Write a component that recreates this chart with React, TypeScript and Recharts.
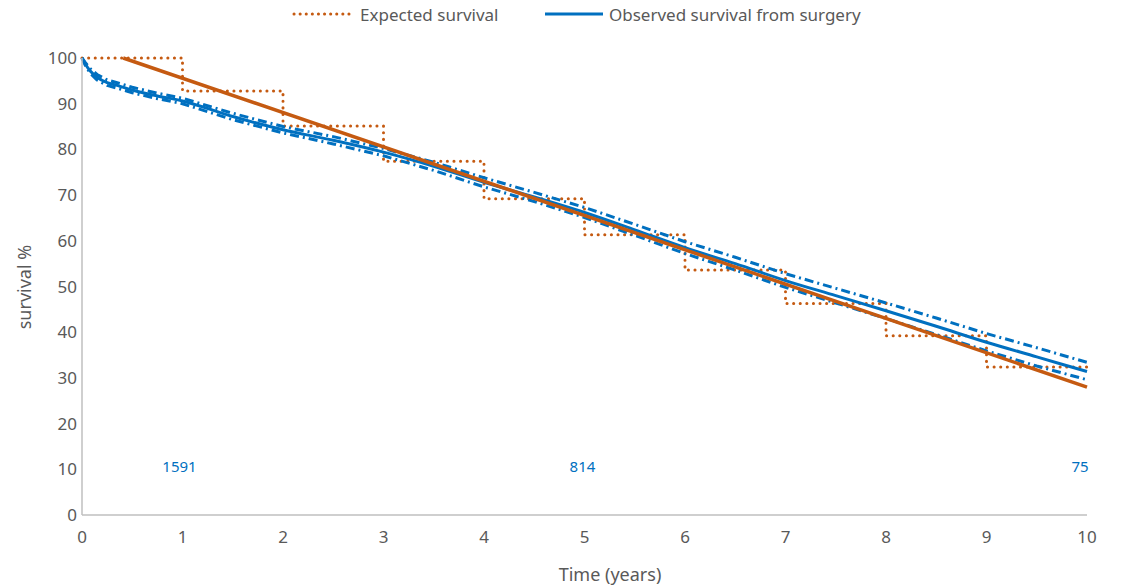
import { LineChart, Line, XAxis, YAxis, LabelList } from "recharts";

// Observed survival from surgery (Kaplan-Meier estimate) with confidence bounds
const obsTimes = [0, 0.03, 0.08, 0.15, 0.25, 0.35, 0.5, 0.75, 1, 1.5, 2, 2.5, 3, 3.5, 4, 4.5, 5, 5.5, 6, 6.5, 7, 7.5, 8, 8.5, 9, 9.5, 10];
const observed = [100, 98.8, 97.2, 95.8, 94.6, 94.0, 93.0, 91.7, 90.6, 87.2, 84.3, 82.0, 79.4, 76.3, 72.8, 69.6, 66.2, 62.4, 58.5, 55.0, 51.3, 48.0, 44.7, 41.3, 37.8, 34.6, 31.4];
const upperCI = [100, 99.1, 97.7, 96.4, 95.2, 94.6, 93.6, 92.3, 91.2, 87.9, 85.0, 82.8, 80.2, 77.2, 73.8, 70.6, 67.3, 63.6, 59.8, 56.4, 52.8, 49.6, 46.4, 43.1, 39.7, 36.6, 33.4];
const lowerCI = [100, 98.5, 96.7, 95.2, 94.0, 93.4, 92.4, 91.1, 90.0, 86.5, 83.6, 81.2, 78.6, 75.4, 71.8, 68.6, 65.1, 61.2, 57.2, 53.6, 49.8, 46.4, 43.0, 39.5, 35.9, 32.6, 29.6];

// Expected survival (yearly steps)
const expTimes = [0, 1, 2, 3, 4, 5, 6, 7, 8, 9, 10];
const expected = [100, 92.8, 85.1, 77.4, 69.2, 61.3, 53.6, 46.3, 39.2, 32.4, 32.4];

// Straight expected line
const trendTimes = [0.41, 10];
const trend = [100, 28];

// Numbers at risk
const riskTimes = [0.97, 4.98, 9.93];
const riskY = [10.5, 10.5, 10.5];
const riskLabels = ["1591", "814", "75"];

const xTicks = [0, 1, 2, 3, 4, 5, 6, 7, 8, 9, 10];
const yTicks = [0, 10, 20, 30, 40, 50, 60, 70, 80, 90, 100];

const obsData = obsTimes.map((t, i) => ({ t, obs: observed[i], up: upperCI[i], lo: lowerCI[i] }));
const expData = expTimes.map((t, i) => ({ t, exp: expected[i] }));
const trendData = trendTimes.map((t, i) => ({ t, trend: trend[i] }));
const riskData = riskTimes.map((t, i) => ({ t, y: riskY[i], n: riskLabels[i] }));

const BLUE = "#0070C0";
const ORANGE = "#C55A11";
const FONT = "'Noto Sans', sans-serif";
const TEXT = "#595959";

const App = () => {
  return (
    <div style={{ position: "relative", width: 1130, height: 580, fontFamily: FONT }}>
      <LineChart width={1130} height={580} margin={{ top: 50, right: 51, bottom: 33, left: 0 }}>
        <XAxis
          dataKey="t"
          type="number"
          domain={[0, 10]}
          ticks={xTicks}
          allowDuplicatedCategory={false}
          tickLine={false}
          tickMargin={10}
          height={40}
          stroke="#BFBFBF"
          strokeWidth={1.5}
          tick={{ fill: TEXT, fontSize: 17, fontFamily: FONT }}
          label={{
            content: () => (
              <text x={602} y={573} textAnchor="middle" fontSize={18} fill={TEXT} fontFamily={FONT}>
                Time (years)
              </text>
            ),
          }}
        />
        <YAxis
          type="number"
          domain={[0, 100]}
          ticks={yTicks}
          tickLine={false}
          tickSize={3}
          tickMargin={2}
          width={74}
          stroke="#BFBFBF"
          strokeWidth={1.5}
          tick={{ fill: TEXT, fontSize: 17, fontFamily: FONT }}
          label={{
            content: () => (
              <text x={16} y={279} textAnchor="middle" dominantBaseline="central" fontSize={18} fill={TEXT} fontFamily={FONT} transform="rotate(-90 16 279)">
                survival %
              </text>
            ),
          }}
        />
        <Line data={expData} dataKey="exp" type="stepAfter" stroke={ORANGE} strokeWidth={3} strokeDasharray="0.1 6.5" strokeLinecap="round" dot={false} isAnimationActive={false} />
        <Line data={obsData} dataKey="up" type="linear" stroke={BLUE} strokeWidth={3} strokeDasharray="9 4 2 4" dot={false} isAnimationActive={false} />
        <Line data={obsData} dataKey="lo" type="linear" stroke={BLUE} strokeWidth={3} strokeDasharray="9 4 2 4" dot={false} isAnimationActive={false} />
        <Line data={obsData} dataKey="obs" type="monotone" stroke={BLUE} strokeWidth={3} dot={false} isAnimationActive={false} />
        <Line data={trendData} dataKey="trend" type="linear" stroke={ORANGE} strokeWidth={3.5} dot={false} isAnimationActive={false} />
        <Line data={riskData} dataKey="y" stroke="none" dot={false} isAnimationActive={false}>
          <LabelList dataKey="n" position="center" fill={BLUE} fontSize={15} fontFamily={FONT} />
        </Line>
      </LineChart>
      {/* legend, drawn in page coordinates */}
      <svg width={1138} height={34} style={{ position: "absolute", left: -8, top: -8 }}>
        <line x1={294} y1={14} x2={350} y2={14} stroke={ORANGE} strokeWidth={3} strokeDasharray="0.1 6" strokeLinecap="round" />
        <text x={360} y={14} dominantBaseline="central" fontSize={17} fill={TEXT} fontFamily={FONT}>Expected survival</text>
        <line x1={545} y1={14} x2={603} y2={14} stroke={BLUE} strokeWidth={3} />
        <text x={609} y={14} dominantBaseline="central" fontSize={17} fill={TEXT} fontFamily={FONT}>Observed survival from surgery</text>
      </svg>
    </div>
  );
};

export default App;
